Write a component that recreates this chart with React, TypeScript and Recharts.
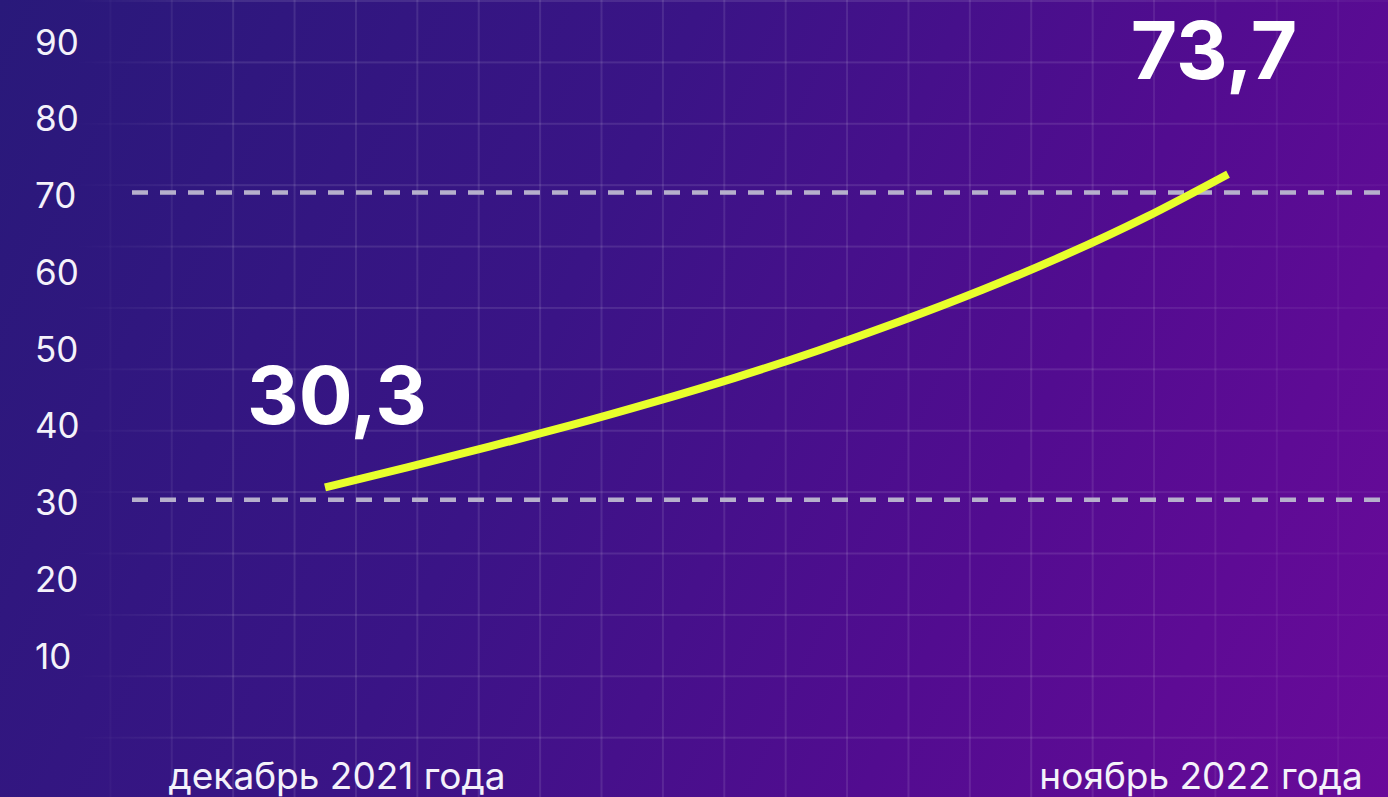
import { LineChart, Line, XAxis, YAxis, ReferenceLine } from 'recharts'

// monthly series, Dec 2021 .. Nov 2022
const months = [
  'дек 2021', 'янв 2022', 'фев 2022', 'мар 2022', 'апр 2022', 'май 2022',
  'июн 2022', 'июл 2022', 'авг 2022', 'сен 2022', 'окт 2022', 'ноя 2022',
]
const values = [31.6, 34.2, 36.9, 39.7, 42.7, 45.9, 49.4, 53.2, 57.3, 61.8, 66.8, 72.4]
const yTicks = [10, 20, 30, 40, 50, 60, 70, 80, 90]
const edgeLabels = ['декабрь 2021 года', 'ноябрь 2022 года']
const callouts = ['30,3', '73,7']
const guideValues = [30, 70]

const data = months.map((m, i) => ({ month: m, value: values[i] }))

const FONT = 'Inter, "Noto Sans", sans-serif'
const TEXT = '#f4f2fa'

function YTick(props: any) {
  const { x, y, payload } = props
  return (
    <text x={x - 95} y={y + 3} dy="0.36em" textAnchor="start" fill={TEXT} fontSize={35} fontFamily={FONT}>
      {payload.value}
    </text>
  )
}

function XTick(props: any) {
  const { x, y, payload } = props
  const first = payload.value === months[0]
  return (
    <text
      x={x + (first ? 12 : -27)}
      y={y + 57}
      textAnchor="middle"
      fill={TEXT}
      fontSize={37}
      fontFamily={FONT}
    >
      {first ? edgeLabels[0] : edgeLabels[1]}
    </text>
  )
}

function Callout(props: any) {
  const { x, y, index } = props
  if (index !== 0 && index !== values.length - 1) return null
  const first = index === 0
  return (
    <text
      x={x + (first ? 12 : -14)}
      y={y + (first ? -63 : -95)}
      textAnchor="middle"
      fill="#ffffff"
      fontSize={80}
      fontWeight={700}
      fontFamily={FONT}
    >
      {first ? callouts[0] : callouts[1]}
    </text>
  )
}

const gridMask =
  'linear-gradient(to right, transparent 70px, #000 230px, #000 78%, rgba(0,0,0,0.35) 100%)'

export default function App() {
  return (
    <div
      style={{
        position: 'fixed',
        left: 0,
        top: 0,
        width: 1388,
        height: 797,
        overflow: 'hidden',
        background: 'linear-gradient(115deg, #29197a 0%, #3a1486 40%, #520c90 70%, #6a0a9a 100%)',
      }}
    >
      <div
        style={{
          position: 'absolute',
          inset: 0,
          backgroundImage:
            'linear-gradient(to right, rgba(255,255,255,0.1) 2px, transparent 2px), linear-gradient(to bottom, rgba(255,255,255,0.1) 2px, transparent 2px)',
          backgroundSize: '61.4px 61.4px',
          backgroundPosition: '48px 0px',
          WebkitMaskImage: gridMask,
          maskImage: gridMask,
        }}
      />
      <div style={{ position: 'absolute', left: 0, top: 0 }}>
        <LineChart width={1388} height={797} data={data} margin={{ top: 39, right: 0, left: 0, bottom: 0 }}>
          <XAxis
            dataKey="month"
            ticks={[months[0], months[months.length - 1]]}
            tick={<XTick />}
            tickLine={false}
            axisLine={false}
            tickSize={0}
            height={67}
            interval={0}
            padding={{ left: 193, right: 160 }}
          />
          <YAxis
            domain={[0, 90]}
            ticks={yTicks}
            tick={<YTick />}
            tickLine={false}
            axisLine={false}
            tickSize={0}
            width={132}
            interval={0}
          />
          {guideValues.map((v) => (
            <ReferenceLine key={v} y={v} stroke="#b6b0cc" strokeWidth={4.5} strokeDasharray="16 12" />
          ))}
          <Line
            type="natural"
            dataKey="value"
            stroke="#e8ff2c"
            strokeWidth={8}
            dot={false}
            activeDot={false}
            label={<Callout />}
            isAnimationActive={false}
          />
        </LineChart>
      </div>
    </div>
  )
}
